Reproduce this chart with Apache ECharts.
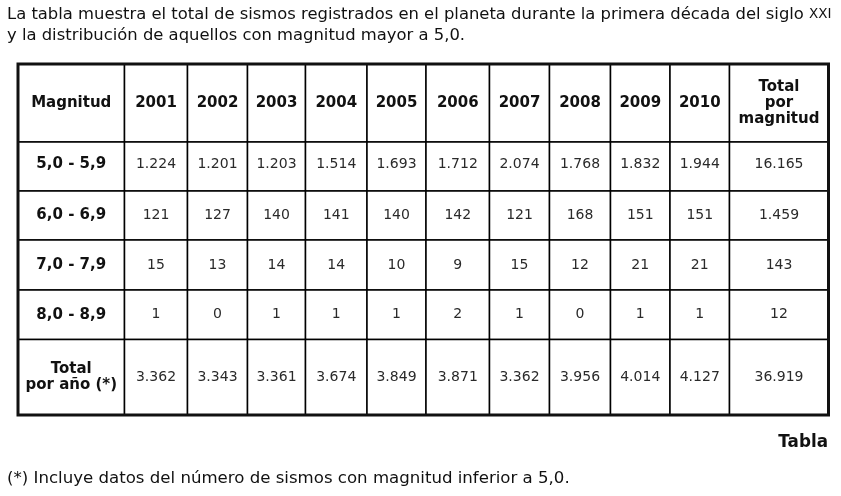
<!DOCTYPE html>
<html>
<head>
<meta charset="utf-8">
<script src="https://cdn.jsdelivr.net/npm/echarts@6/dist/echarts.min.js"></script>
<style>
  html, body { margin: 0; padding: 0; background: #fff; }
  #main { width: 841px; height: 496px; }
</style>
</head>
<body>
<div id="main"></div>
<script>
// datos de la tabla
const years = ['2001', '2002', '2003', '2004', '2005', '2006', '2007', '2008', '2009', '2010']
const magnitudes = ['5,0 - 5,9', '6,0 - 6,9', '7,0 - 7,9', '8,0 - 8,9']
const mag5 = [1224, 1201, 1203, 1514, 1693, 1712, 2074, 1768, 1832, 1944]
const mag6 = [121, 127, 140, 141, 140, 142, 121, 168, 151, 151]
const mag7 = [15, 13, 14, 14, 10, 9, 15, 12, 21, 21]
const mag8 = [1, 0, 1, 1, 1, 2, 1, 0, 1, 1]
const totalPorMagnitud = [16165, 1459, 143, 12]
const totalPorAnio = [3362, 3343, 3361, 3674, 3849, 3871, 3362, 3956, 4014, 4127]
const totalGeneral = 36919

// tamaños de columnas y filas (layout)
const colWidths = [106.5, 63, 60, 58, 61.5, 59, 63.5, 60, 61, 59.5, 59.5, 99]
const rowHeights = [78, 49, 49, 50, 49.5, 75.5]
const totalW = colWidths.reduce((a, b) => a + b, 0)
const totalH = rowHeights.reduce((a, b) => a + b, 0)
const colStart = colWidths.map((w, i) => colWidths.slice(0, i).reduce((a, b) => a + b, 0))
const rowStart = rowHeights.map((h, i) => rowHeights.slice(0, i).reduce((a, b) => a + b, 0))

const fmt = (n) => String(n).replace(/\B(?=(\d{3})+(?!\d))/g, '.')

// armar celdas: [col, fila, texto, negrita]
const cells = []
cells.push([0, 0, 'Magnitud', true])
years.forEach((y, i) => cells.push([i + 1, 0, y, true]))
cells.push([11, 0, 'Total\npor\nmagnitud', true])
const rows = [mag5, mag6, mag7, mag8]
rows.forEach((vals, r) => {
  cells.push([0, r + 1, magnitudes[r], true])
  vals.forEach((v, i) => cells.push([i + 1, r + 1, fmt(v), false]))
  cells.push([11, r + 1, fmt(totalPorMagnitud[r]), false])
})
cells.push([0, 5, 'Total\npor año (*)', true])
totalPorAnio.forEach((v, i) => cells.push([i + 1, 5, fmt(v), false]))
cells.push([11, 5, fmt(totalGeneral), false])

const FONT = '"DejaVu Sans", Verdana, sans-serif'

var myChart = echarts.init(document.getElementById('main'))

var option = {
  animation: false,
  backgroundColor: '#fff',
  grid: { left: 18, top: 64, width: totalW, height: totalH },
  xAxis: { type: 'value', min: 0, max: totalW, show: false },
  yAxis: { type: 'value', min: 0, max: totalH, inverse: true, show: false },
  graphic: [
    {
      type: 'text', left: 7, top: 4,
      style: {
        text: 'La tabla muestra el total de sismos registrados en el planeta durante la primera década del siglo {s|XXI}\ny la distribución de aquellos con magnitud mayor a 5,0.',
        rich: { s: { fontSize: 13.5, fontFamily: FONT, fill: '#111' } },
        font: '16.4px ' + FONT, fill: '#111', lineHeight: 21
      }
    },
    {
      type: 'text', right: 13, top: 434,
      style: { text: 'Tabla', font: 'bold 16.8px ' + FONT, fill: '#111' }
    },
    {
      type: 'text', left: 7, top: 470,
      style: {
        text: '(*) Incluye datos del número de sismos con magnitud inferior a 5,0.',
        font: '16.6px ' + FONT, fill: '#111'
      }
    }
  ],
  series: [
    {
      type: 'custom',
      data: cells.map((c) => [c[0], c[1]]),
      renderItem: function (params, api) {
        const c = cells[params.dataIndex]
        const col = api.value(0), row = api.value(1)
        const p0 = api.coord([colStart[col], rowStart[row]])
        const p1 = api.coord([colStart[col] + colWidths[col], rowStart[row] + rowHeights[row]])
        return {
          type: 'group',
          children: [
            {
              type: 'rect',
              shape: { x: p0[0], y: p0[1], width: p1[0] - p0[0], height: p1[1] - p0[1] },
              style: { fill: '#fff', stroke: '#000', lineWidth: 1.5 }
            },
            {
              type: 'text',
              style: {
                text: c[2],
                x: (p0[0] + p1[0]) / 2,
                y: (p0[1] + p1[1]) / 2 - (row === 1 ? 2 : 0),
                align: 'center',
                verticalAlign: 'middle',
                font: (c[3] ? 'bold 15px ' : '14px ') + FONT,
                lineHeight: 16,
                fill: c[3] ? '#111' : '#2a2a2a'
              }
            }
          ]
        }
      },
      z: 2
    },
    {
      // borde exterior grueso
      type: 'custom',
      data: [[0, 0]],
      renderItem: function (params, api) {
        const p0 = api.coord([0, 0])
        const p1 = api.coord([totalW, totalH])
        return {
          type: 'rect',
          shape: { x: p0[0], y: p0[1], width: p1[0] - p0[0], height: p1[1] - p0[1] },
          style: { fill: 'none', stroke: '#111', lineWidth: 3 }
        }
      },
      z: 3
    }
  ]
}

myChart.setOption(option)
window.onresize = function () {
  myChart.resize()
}
</script>
</body>
</html>
